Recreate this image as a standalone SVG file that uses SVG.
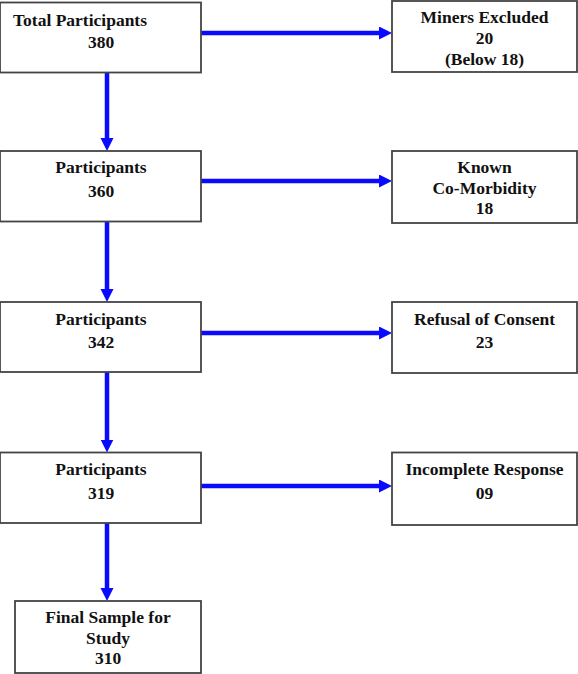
<svg xmlns="http://www.w3.org/2000/svg" width="578" height="674" viewBox="0 0 578 674">
<style>
.box{fill:#ffffff;stroke:#444444;stroke-width:1.8}
.t{font-family:"Liberation Serif","Times New Roman",serif;font-weight:bold;font-size:17.5px;fill:#111111;text-anchor:middle}
.c{stroke:#0a0aff;stroke-width:4.5;fill:none}
</style>
<defs>
<marker id="ah" markerUnits="userSpaceOnUse" markerWidth="14" markerHeight="14" refX="1" refY="6.5" orient="auto">
<path d="M0,0 L13,6.5 L0,13 z" fill="#0a0aff"/>
</marker>
</defs>
<rect width="578" height="674" fill="#ffffff"/>
<g id="connectors">
<line class="c" x1="201" y1="33" x2="380" y2="33" marker-end="url(#ah)"/>
<line class="c" x1="201" y1="181" x2="380" y2="181" marker-end="url(#ah)"/>
<line class="c" x1="201" y1="333" x2="380" y2="333" marker-end="url(#ah)"/>
<line class="c" x1="201" y1="486" x2="380" y2="486" marker-end="url(#ah)"/>
<line class="c" x1="107" y1="72.5" x2="107" y2="139" marker-end="url(#ah)"/>
<line class="c" x1="107" y1="221.5" x2="107" y2="290" marker-end="url(#ah)"/>
<line class="c" x1="107" y1="372" x2="107" y2="440.5" marker-end="url(#ah)"/>
<line class="c" x1="107" y1="523" x2="107" y2="589" marker-end="url(#ah)"/>
</g>
<g id="n1">
<rect class="box" x="0" y="2.5" width="201" height="70"/>
<text class="t" x="13" y="26" style="text-anchor:start">Total Participants</text>
<text class="t" x="101" y="48">380</text>
</g>
<g id="n2">
<rect class="box" x="0" y="151" width="201" height="70.5"/>
<text class="t" x="101" y="173">Participants</text>
<text class="t" x="101" y="197">360</text>
</g>
<g id="n3">
<rect class="box" x="0" y="302" width="201" height="70"/>
<text class="t" x="101" y="325">Participants</text>
<text class="t" x="101" y="348">342</text>
</g>
<g id="n4">
<rect class="box" x="0" y="452.5" width="201" height="70.5"/>
<text class="t" x="101" y="475">Participants</text>
<text class="t" x="101" y="499">319</text>
</g>
<g id="n5">
<rect class="box" x="15" y="601" width="186" height="72"/>
<text class="t" x="108" y="623">Final Sample for</text>
<text class="t" x="108" y="644">Study</text>
<text class="t" x="108" y="664">310</text>
</g>
<g id="r1">
<rect class="box" x="392" y="1" width="185" height="71"/>
<text class="t" x="484.5" y="23">Miners Excluded</text>
<text class="t" x="484.5" y="44">20</text>
<text class="t" x="484.5" y="65">(Below 18)</text>
</g>
<g id="r2">
<rect class="box" x="392" y="151" width="185" height="72"/>
<text class="t" x="484.5" y="173">Known</text>
<text class="t" x="484.5" y="194">Co-Morbidity</text>
<text class="t" x="484.5" y="214">18</text>
</g>
<g id="r3">
<rect class="box" x="392" y="302" width="185" height="71"/>
<text class="t" x="484.5" y="325">Refusal of Consent</text>
<text class="t" x="484.5" y="348">23</text>
</g>
<g id="r4">
<rect class="box" x="392" y="452.5" width="185" height="72.5"/>
<text class="t" x="484.5" y="475">Incomplete Response</text>
<text class="t" x="484.5" y="499">09</text>
</g>
</svg>
